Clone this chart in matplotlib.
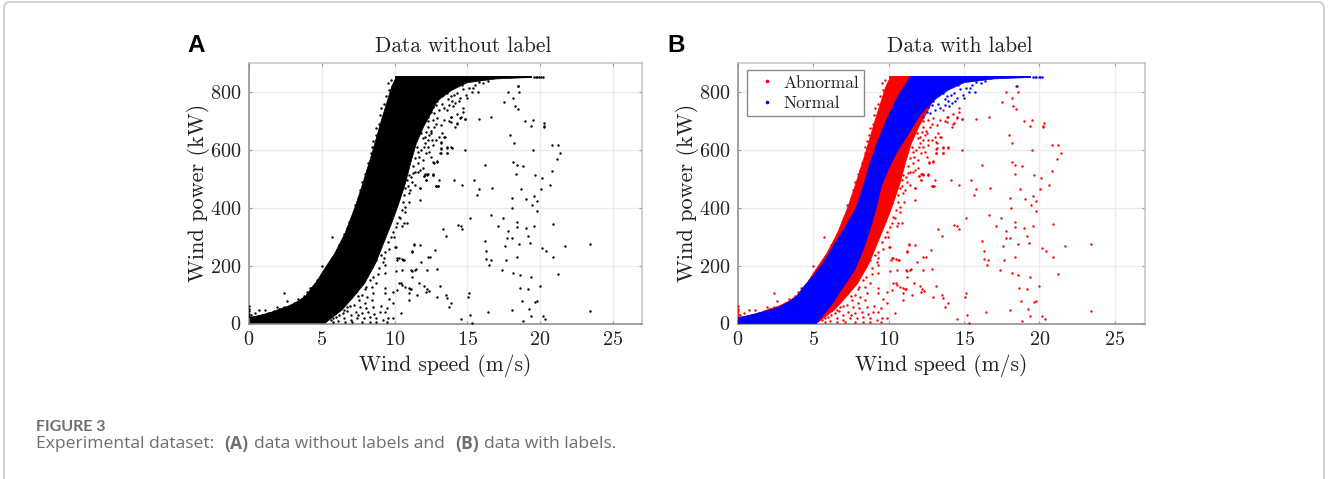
import numpy as np
import matplotlib
matplotlib.use("Agg")
import matplotlib.pyplot as plt
from matplotlib.lines import Line2D
from matplotlib.patches import FancyBboxPatch

W, H = 1328, 479
serif = ['cmr10', 'DejaVu Serif']
plt.rcParams['axes.unicode_minus'] = False
plt.rcParams['axes.formatter.use_mathtext'] = True

# solid part of the cloud, edges as (speed, power)
outer_left = [(0, 0), (0, 20), (0.5, 25), (1.0, 30), (1.5, 38), (2.1, 50), (2.7, 60), (3.3, 75), (3.9, 95),
              (4.4, 122), (5.0, 174), (5.9, 243), (6.6, 312), (7.3, 404), (7.75, 473), (8.45, 588),
              (9.1, 703), (9.8, 818), (10.1, 850)]
outer_right = [(13.6, 850), (13.4, 800), (12.9, 766), (12.5, 726), (12.0, 680), (11.5, 622), (11.1, 553),
               (10.75, 484), (10.3, 415), (9.8, 346), (9.25, 277), (8.7, 208), (7.95, 139), (7.2, 93),
               (6.4, 47), (5.2, 0)]
normal_left = [(0, 0), (0, 20), (0.4, 24), (1.2, 34), (2.0, 45), (2.7, 56), (3.3, 72), (3.9, 95), (4.4, 130),
               (5.0, 165), (5.65, 208), (6.3, 266), (7.0, 323), (7.85, 400), (8.3, 473), (8.75, 553),
               (9.3, 634), (9.85, 703), (10.6, 784), (11.4, 850)]
normal_right = [(19.4, 850), (17.0, 845), (15.0, 832), (13.9, 805), (13.1, 775), (12.5, 745), (12.0, 715),
                (11.6, 680), (11.05, 634), (10.5, 588), (9.95, 530), (9.5, 473), (9.2, 404), (8.75, 323),
                (8.3, 254), (7.75, 185), (6.85, 116), (6.3, 70), (5.2, 0)]
top_power = 850
top_start, top_split, top_end = 10.1, 11.4, 19.4
top_tail = [19.55, 19.7, 19.8, 19.95, 20.05, 20.2]

abnormal_far = [
    (23.4, 44), (23.4, 274), (21.7, 268), (21.25, 171), (20.9, 229), (20.4, 249), (20.15, 261), (20.0, 131),
    (19.8, 77), (19.65, 76), (19.4, 162), (19.2, 120), (18.65, 122), (18.6, 169), (18.75, 79), (19.25, 49),
    (19.4, 26), (18.85, 7), (18.05, 46), (20.2, 26), (20.35, 15), (18.15, 176), (17.4, 186), (17.65, 220),
    (18.4, 231), (17.6, 267), (18.55, 274), (19.3, 277), (19.15, 303), (19.0, 330), (19.55, 337), (20.9, 345),
    (18.4, 352), (18.4, 333), (17.8, 319), (17.75, 295), (18.05, 295), (17.45, 364), (17.1, 338), (16.65, 374),
    (18.1, 400), (18.05, 434), (19.05, 431), (19.55, 442), (19.45, 411), (19.8, 422), (19.8, 387), (18.7, 466),
    (20.05, 464), (20.65, 480), (20.1, 501), (19.65, 513), (20.8, 528), (21.15, 567), (21.4, 588), (21.2, 616),
    (20.85, 615), (19.5, 600), (18.85, 545), (18.4, 548), (18.15, 557), (18.35, 515), (16.2, 549), (16.7, 467),
    (15.65, 444), (15.8, 464), (15.45, 496), (14.85, 600), (14.65, 478), (14.1, 495), (15.15, 365), (14.35, 341),
    (14.55, 336), (14.65, 327), (13.3, 326), (13.5, 301), (16.2, 284), (16.3, 251), (16.3, 224), (16.6, 220),
    (16.5, 201), (16.45, 41), (15.1, 104), (15.05, 93), (15.2, 31), (14.55, 15), (15.3, 1), (13.9, 70),
    (13.75, 56), (13.5, 99), (13.6, 87), (12.95, 93), (13.15, 128), (12.9, 190), (12.8, 253), (12.45, 231),
    (12.3, 230), (12.25, 185), (11.85, 214), (11.35, 274), (11.75, 270), (11.2, 249), (11.45, 190), (11.2, 183),
    (18.45, 820), (17.8, 801), (18.55, 801), (18.15, 779), (17.5, 766), (18.25, 751), (18.45, 741), (18.95, 701),
    (19.5, 703), (19.35, 682), (20.3, 691), (20.25, 682), (20.25, 680), (17.95, 650), (18.2, 623), (16.65, 713),
    (15.8, 708), (14.85, 706), (14.67, 746), (14.67, 732), (14.3, 692), (14.54, 712), (13.9, 715), (13.76, 700),
    (13.85, 696), (13.07, 496), (12.96, 474), (12.84, 474), (12.15, 495), (11.74, 468), (12.61, 513), (12.2, 515),
    (12.02, 511), (12.7, 556), (12.93, 559), (13.58, 608), (13.92, 608), (13.62, 588), (13.16, 588), (13.16, 603),
    (13.16, 628), (13.46, 643), (10.08, 263), (11.34, 272), (10.19, 227), (10.5, 223), (10.65, 219), (10.1, 183),
    (10.52, 185), (11.14, 185), (11.7, 140), (12.05, 130), (12.2, 118), (12.35, 112), (12.15, 108), (11.15, 120),
    (10.45, 140), (10.75, 127), (11.05, 118), (10.2, 115),
]
abnormal_low = [
    (9.31, 248), (9.08, 237), (8.75, 219), (9.2, 214), (9.31, 202), (8.42, 196), (8.09, 185), (8.86, 171),
    (9.31, 173), (8.31, 150), (7.98, 162), (7.54, 139), (7.94, 118), (8.42, 125), (8.75, 139), (9.31, 122),
    (9.31, 107), (8.53, 104), (8.09, 93), (7.76, 98), (7.32, 110), (6.99, 93), (7.54, 81), (6.65, 81),
    (8.42, 81), (7.98, 70), (7.65, 58), (7.21, 64), (6.76, 58), (6.32, 64), (8.53, 58), (8.97, 41),
    (9.31, 41), (8.2, 41), (7.76, 35), (7.32, 41), (6.99, 29), (6.43, 35), (5.99, 24), (8.75, 18),
    (8.31, 24), (7.87, 18), (7.43, 18), (6.99, 12), (6.54, 18), (6.1, 10), (9.2, 12), (9.53, 18),
    (9.86, 18), (5.77, 6), (8.75, 6), (8.31, 6), (7.76, 6), (7.1, 6), (9.64, 83), (9.86, 70),
    (10.41, 35), (9.86, 110), (10.3, 139), (10.52, 133), (10.96, 122), (10.96, 104), (11.52, 98), (10.96, 81),
    (11.4, 185), (11.23, 160), (10.15, 219), (10.3, 225), (10.59, 219), (11.23, 248), (7.5, 28), (6.7, 42),
    (6.2, 30), (5.6, 12), (8.05, 52), (8.6, 32), (9.05, 62), (9.5, 55), (6.6, 5), (9.5, 4),
]
abnormal_mid = [
    (13.62, 738), (13.88, 715), (14.28, 724), (14.5, 709), (14.83, 705), (14.28, 689), (14.17, 678), (13.4, 703),
    (12.95, 709), (12.62, 703), (13.17, 686), (12.73, 680), (13.29, 657), (13.4, 643), (13.06, 645), (12.51, 657),
    (12.84, 634), (13.17, 623), (12.62, 617), (12.29, 611), (12.4, 594), (13.17, 605), (13.57, 609), (13.9, 609),
    (13.13, 588), (13.57, 588), (12.51, 576), (12.95, 561), (12.67, 557), (11.96, 565), (11.63, 553), (11.96, 538),
    (11.74, 530), (12.62, 517), (12.29, 517), (11.41, 525), (12.07, 623), (11.85, 657), (12.18, 663), (11.96, 640),
    (12.4, 651), (12.29, 634), (11.63, 594), (11.41, 571), (12.29, 680), (11.63, 525), (11.3, 519), (10.97, 513),
    (10.86, 496), (11.19, 490), (11.41, 478), (11.08, 461), (10.75, 467), (11.74, 467), (10.97, 450), (10.64, 444),
    (11.01, 421), (11.72, 427), (10.75, 404), (10.75, 384), (10.48, 392), (10.19, 415), (10.3, 369), (10.86, 346),
    (10.64, 346), (10.53, 337), (10.19, 346), (10.08, 335), (9.86, 317), (9.75, 300), (9.53, 283), (10.04, 263),
    (12.12, 516), (12.03, 510), (12.25, 513), (12.62, 513), (12.14, 496), (12.85, 475), (13.0, 475), (12.0, 610),
    (12.15, 590), (11.8, 600), (11.55, 610), (11.7, 575), (11.25, 545), (11.15, 505), (10.9, 475), (10.6, 420),
    (10.4, 365), (9.95, 300), (9.65, 258), (9.3, 228), (8.9, 192), (8.5, 160), (8.05, 125), (7.5, 95),
    (6.95, 62), (6.55, 48), (5.75, 18), (12.6, 635), (12.85, 690), (12.5, 665), (12.1, 645), (12.3, 700),
]
abnormal_left = [
    (5.68, 298), (5.0, 197), (2.4, 105), (3.5, 79), (4.2, 122), (0.7, 47), (0.4, 38), (0, 60),
    (0, 50), (0, 42), (0, 33), (0, 26), (0.15, 30), (8.4, 590), (8.45, 610), (8.55, 630),
    (8.7, 650), (8.75, 675), (8.95, 690), (9.0, 720), (9.1, 745), (9.3, 760), (9.4, 785), (9.6, 805),
    (9.55, 830), (9.75, 842), (8.2, 555), (8.1, 530), (7.95, 515), (7.75, 490), (7.6, 460), (7.5, 435),
    (7.25, 410), (7.2, 385), (7.05, 365), (6.9, 350), (6.75, 330), (6.55, 310), (6.4, 285), (6.2, 270),
    (6.05, 255), (5.85, 230), (5.65, 215), (5.45, 195), (5.2, 180), (5.0, 160), (4.7, 150), (4.5, 135),
    (4.25, 122), (4.0, 110), (3.75, 95), (3.4, 85), (3.1, 72), (2.8, 62), (2.4, 58), (2.05, 50),
    (1.7, 42), (1.3, 38), (0.95, 30), (2.6, 78), (1.1, 45), (1.9, 58),
]
normal_speck = [
    (14.17, 763), (13.95, 769), (13.73, 755), (13.4, 744), (13.06, 738), (12.73, 726), (12.51, 732), (12.29, 715),
    (12.84, 755), (12.95, 767), (13.29, 758), (12.62, 747), (12.18, 738), (11.96, 720), (12.8, 780), (13.3, 790),
    (13.7, 775), (14.1, 790), (14.3, 795), (14.5, 780), (14.7, 810), (14.9, 790), (15.1, 815), (15.3, 800),
    (15.55, 825), (15.8, 835), (16.1, 830), (16.4, 838), (15.75, 801), (14.6, 825), (14.2, 825), (15.0, 778),
    (18.5, 820), (14.4, 770), (13.6, 795), (14.0, 750), (15.4, 815), (13.85, 785),
]

LEGEND = ["Abnormal", "Normal"]
XTICKS = [0, 5, 10, 15, 20, 25]
YTICKS = [0, 200, 400, 600, 800]


def make_ax(fig, left, right, top=63, bottom=323.5):
    ax = fig.add_axes([left / W, 1 - bottom / H, (right - left) / W, (bottom - top) / H])
    ax.set_xlim(0, 27)
    ax.set_ylim(0, 900)
    ax.set_xticks(XTICKS)
    ax.set_yticks(YTICKS)
    ax.grid(True, color="#ececec", lw=1)
    ax.set_axisbelow(True)
    ax.tick_params(direction="in", length=2.5, width=0.8, color="#999999", top=True, right=True,
                   labelsize=14.5, labelcolor="#222222", pad=5.5)
    for lab in ax.get_xticklabels() + ax.get_yticklabels():
        lab.set_family(serif)
    for s in ["left", "bottom"]:
        ax.spines[s].set_color("#8a8a8a")
    for s in ["top", "right"]:
        ax.spines[s].set_color("#c4c4c4")
    for s in ax.spines.values():
        s.set_linewidth(1.1)
    ax.set_xlabel("Wind speed (m/s)", family=serif, fontsize=15.5, color="#222222", labelpad=3.5)
    ax.set_ylabel("Wind power (kW)", family=serif, fontsize=16, color="#222222", labelpad=0)
    return ax


def dots(ax, pts, color, z=3):
    pts = np.array(pts)
    ax.scatter(pts[:, 0], pts[:, 1], s=3.0, color=color, linewidths=0, zorder=z)


def band(ax, left, right, color, z):
    pts = np.array(left + right)
    ax.fill(pts[:, 0], pts[:, 1], color=color, lw=0.5, zorder=z)


fig = plt.figure(figsize=(W / 100, H / 100), dpi=100, facecolor="white")

# page frame + caption
bg = fig.add_axes([0, 0, 1, 1])
bg.set_xlim(0, W)
bg.set_ylim(H, 0)
bg.axis("off")
bg.add_patch(FancyBboxPatch((4, 2), W - 8, H + 40, boxstyle="round,pad=0,rounding_size=6",
                            fc="none", ec="#c6c6c6", lw=1.1))
cap = "#6e6e6e"
cap_font = "Open Sans"
bg.text(36, 427, "FIGURE 3", family="Lato", fontsize=11.5, weight="bold", color=cap, va="center")
bg.text(36, 444, "Experimental dataset:", family=cap_font, fontsize=12.6, color=cap, va="center")
bg.text(224.5, 444, "(A)", family=cap_font, fontsize=12.6, weight="bold", color=cap, va="center")
bg.text(254, 444, "data without labels and", family=cap_font, fontsize=12.6, color=cap, va="center")
bg.text(455.5, 444, "(B)", family=cap_font, fontsize=12.6, weight="bold", color=cap, va="center")
bg.text(484, 444, "data with labels.", family=cap_font, fontsize=12.6, color=cap, va="center")
bg.text(187, 45, "A", family="Liberation Sans", fontsize=17.5, weight="bold", color="black", va="center")
bg.text(667, 45, "B", family="Liberation Sans", fontsize=17.5, weight="bold", color="black", va="center")

# panel A
axa = make_ax(fig, 249, 642)
band(axa, outer_left, outer_right, "black", 2)
band(axa, normal_left, normal_right, "black", 2)
for pts in (abnormal_far, abnormal_low, abnormal_mid, abnormal_left, normal_speck):
    dots(axa, pts, "black")
axa.plot([top_start, top_end], [top_power, top_power], color="black", lw=1.4, zorder=3)
axa.scatter(top_tail, [top_power] * len(top_tail), s=3.0, color="black", linewidths=0, zorder=3)
axa.text(0.545, 1.028, "Data without label", transform=axa.transAxes, ha="center", va="bottom",
         family=serif, fontsize=15.4, color="#222222")

# panel B
axb = make_ax(fig, 738, 1145)
band(axb, outer_left, outer_right, "red", 2)
for pts in (abnormal_far, abnormal_low, abnormal_mid, abnormal_left):
    dots(axb, pts, "red")
band(axb, normal_left, normal_right, "blue", 4)
dots(axb, normal_speck, "blue", 4)
axb.plot([top_start, top_split], [top_power, top_power], color="red", lw=1.4, zorder=3)
axb.plot([top_split, top_end], [top_power, top_power], color="blue", lw=1.4, zorder=4)
axb.scatter(top_tail, [top_power] * len(top_tail), s=3.0, color="blue", linewidths=0, zorder=4)
axb.text(0.544, 1.028, "Data with label", transform=axb.transAxes, ha="center", va="bottom",
         family=serif, fontsize=15.4, color="#222222")

handles = [Line2D([], [], ls="", marker="o", ms=1.6, color="red"),
           Line2D([], [], ls="", marker="o", ms=1.6, color="blue")]
leg = axb.legend(handles, LEGEND, loc="upper left", bbox_to_anchor=(9 / 407, 1 - 7 / 260.5),
                 borderaxespad=0, fancybox=False, framealpha=1, edgecolor="#8a8a8a",
                 prop={"family": serif, "size": 12.5}, labelcolor="#222222",
                 handletextpad=0.1, labelspacing=0.3, borderpad=0.3, handlelength=1.7)
leg.get_frame().set_linewidth(1.0)
leg.set_zorder(6)

fig.savefig("out.png", dpi=100)
